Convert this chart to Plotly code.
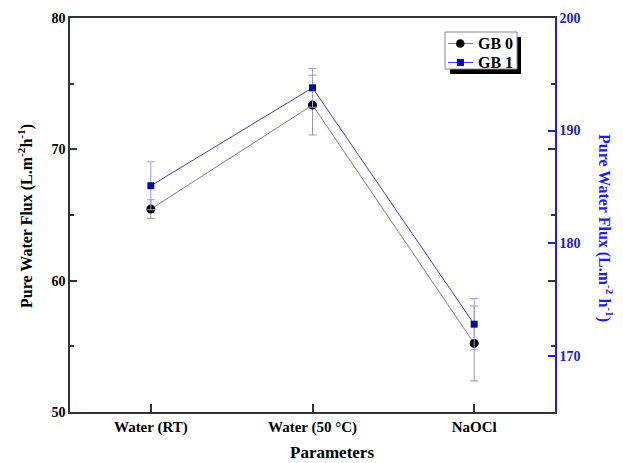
import plotly.graph_objects as go

categories = ["Water (RT)", "Water (50 °C)", "NaOCl"]
gb0_values = [65.45, 73.37, 55.22]
gb0_errors = [0.71, 2.28, 2.85]
gb1_values = [185.1, 193.8, 172.8]
gb1_errors = [2.13, 1.72, 2.28]
left_ticks = [50, 60, 70, 80]
right_ticks = [170, 180, 190, 200]
series_names = ["GB 0", "GB 1"]

FONT = "Liberation Serif"
BLUE = "#1a1aff"
GB0_LINE, GB0_MARK = "#808080", "black"
GB1_LINE, GB1_MARK = "#3a3aff", "#0a0a9e"

fig = go.Figure()
fig.add_trace(go.Scatter(
    x=categories, y=gb0_values, name=series_names[0], mode="lines+markers",
    line=dict(color=GB0_LINE, width=1),
    marker=dict(symbol="circle", size=9, color=GB0_MARK),
    error_y=dict(type="data", array=gb0_errors, color="#9a9a9a", thickness=1, width=4),
    yaxis="y",
))
fig.add_trace(go.Scatter(
    x=categories, y=gb1_values, name=series_names[1], mode="lines+markers",
    line=dict(color=GB1_LINE, width=1),
    marker=dict(symbol="square", size=7, color=GB1_MARK),
    error_y=dict(type="data", array=gb1_errors, color="#9c9cf0", thickness=1, width=4),
    yaxis="y2",
))

L, R, T, B = 70, 68, 18, 51
W, H = 623, 463
pw, ph = W - L - R, H - T - B

def px_x(x):
    return (x - L) / pw

def px_y(y):
    return (H - B - y) / ph

def prect(x0, y0, x1, y1, **kw):
    return dict(type="rect", xref="paper", yref="paper",
                x0=px_x(x0), x1=px_x(x1), y0=px_y(y1), y1=px_y(y0), **kw)

# hand-built legend box (with Origin-style drop shadow)
shapes = [
    prect(450, 37, 521, 74, fillcolor="black", line=dict(width=0), layer="above"),
    prect(445, 32, 517, 69, fillcolor="white", line=dict(color="#888888", width=1), layer="above"),
    dict(type="line", xref="paper", yref="paper", x0=px_x(448), x1=px_x(473),
         y0=px_y(43.5), y1=px_y(43.5), line=dict(color=GB0_LINE, width=1), layer="above"),
    dict(type="circle", xref="paper", yref="paper", x0=px_x(456), x1=px_x(464.5),
         y0=px_y(47.8), y1=px_y(39.2), fillcolor=GB0_MARK, line=dict(width=0), layer="above"),
    dict(type="line", xref="paper", yref="paper", x0=px_x(448), x1=px_x(473),
         y0=px_y(62.5), y1=px_y(62.5), line=dict(color=GB1_LINE, width=1), layer="above"),
    prect(457, 59, 464, 66, fillcolor=GB1_MARK, line=dict(width=0), layer="above"),
]

def ann(text, x, y, size, color, angle=0, xanchor="center"):
    return dict(text=text, xref="paper", yref="paper", x=px_x(x), y=px_y(y),
                xanchor=xanchor, yanchor="middle", textangle=angle, showarrow=False,
                font=dict(family=FONT, size=size, color=color, weight="bold"))

annotations = [
    ann("Pure Water Flux (L.m<sup>-2</sup>h<sup>-1</sup>)", 25, 216, 16, "black", -90),
    ann("Pure Water Flux (L.m<sup>-2</sup> h<sup>-1</sup>)", 605, 228, 16, BLUE, 90),
    ann("Parameters", 332, 452, 17, "black"),
    ann(series_names[0], 476, 43.5, 16, "black", xanchor="left"),
    ann(series_names[1], 476, 62.5, 16, "black", xanchor="left"),
]

fig.update_layout(
    width=W, height=H,
    margin=dict(l=L, r=R, t=T, b=B, pad=0),
    paper_bgcolor="white", plot_bgcolor="white",
    font=dict(family=FONT, size=14, color="black", weight="bold"),
    showlegend=False,
    xaxis=dict(
        type="category", range=[-0.5, 2.5],
        showline=True, linecolor="#333333", linewidth=1.5, mirror=True,
        ticks="inside", ticklen=8, tickcolor="#333333", tickwidth=1.5,
        showgrid=False, zeroline=False,
        tickfont=dict(family=FONT, size=15, color="black", weight="bold"),
    ),
    yaxis=dict(
        range=[50, 80], tickvals=left_ticks,
        showline=True, linecolor="#333333", linewidth=1.5, mirror="allticks",
        ticks="inside", ticklen=7, tickcolor="#333333", tickwidth=1.5,
        minor=dict(dtick=5, ticks="inside", ticklen=4, tickcolor="#333333", tickwidth=1.5),
        showgrid=False, zeroline=False,
        tickfont=dict(family=FONT, size=14, color="black", weight="bold"),
    ),
    yaxis2=dict(
        range=[165, 200], tickvals=right_ticks, overlaying="y", side="right",
        showline=True, linecolor=BLUE, linewidth=1.5,
        ticks="inside", ticklen=7, tickcolor=BLUE, tickwidth=1.5,
        showgrid=False, zeroline=False,
        tickfont=dict(family=FONT, size=14, color="#1c1cc8", weight="bold"),
    ),
    annotations=annotations,
    shapes=shapes,
)

fig.write_html("out.html", config={"displayModeBar": False},
               post_script="document.body.style.margin='0px';")
